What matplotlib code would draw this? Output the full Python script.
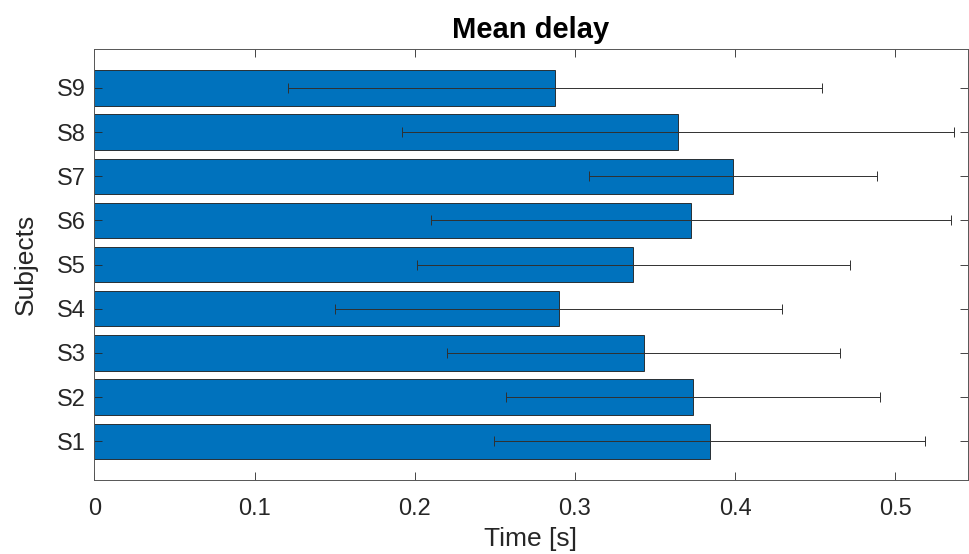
import matplotlib
matplotlib.use('Agg')
from matplotlib import pyplot as plt

subjects = ['S1', 'S2', 'S3', 'S4', 'S5', 'S6', 'S7', 'S8', 'S9']
mean_delay = [0.384, 0.3738, 0.343, 0.290, 0.3363, 0.3724, 0.3986, 0.3643, 0.2875]
std_delay = [0.1347, 0.1166, 0.1227, 0.1395, 0.1351, 0.1620, 0.0896, 0.1724, 0.1664]

plt.rcParams['font.family'] = ['Liberation Sans', 'DejaVu Sans']

fig = plt.figure(figsize=(9.69, 5.54), dpi=100)
ax = fig.add_axes([0.0973, 0.133, 0.9012, 0.7786])

pos = list(range(1, len(subjects) + 1))
ax.barh(pos, mean_delay, height=0.8, color='#0072BD', edgecolor='#1a1a1a', linewidth=0.6)
ax.errorbar(mean_delay, pos, xerr=std_delay, fmt='none', ecolor='#303030',
            elinewidth=0.7, capsize=3.5, capthick=0.7)

ax.set_xlim(0, 0.545)
ax.set_ylim(0.117, 9.883)
ax.set_yticks(pos)
ax.set_yticklabels(subjects)
ax.set_xticks([0, 0.1, 0.2, 0.3, 0.4, 0.5])
ax.set_xticklabels(['0', '0.1', '0.2', '0.3', '0.4', '0.5'])

ax.tick_params(axis='both', direction='in', length=6, width=0.6, colors='#262626',
               labelsize=17, top=True, right=True)
ax.tick_params(axis='x', pad=13)
ax.tick_params(axis='y', pad=6)
for s in ax.spines.values():
    s.set_color('#555555')
    s.set_linewidth(0.7)

ax.set_xlabel('Time [s]', fontsize=19, color='#262626', labelpad=5)
ax.set_ylabel('Subjects', fontsize=19, color='#262626', labelpad=14)
ax.set_title('Mean delay', fontsize=21, fontweight='bold', pad=8)

fig.savefig('out.png', dpi=100)
